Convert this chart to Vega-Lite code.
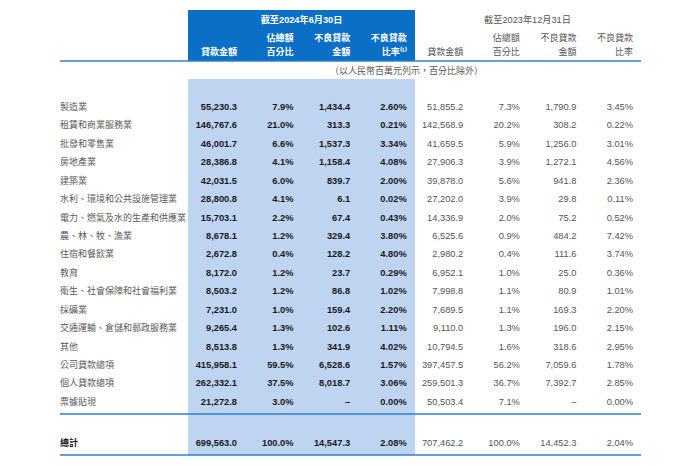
{
  "$schema": "https://vega.github.io/schema/vega-lite/v6.json",
  "width": 696,
  "height": 466,
  "autosize": {"type": "none"},
  "padding": 0,
  "background": "white",
  "config": {
    "view": {"stroke": null},
    "axis": {"disable": true},
    "legend": {"disable": true},
    "scale": {"pointPadding": 0},
    "text": {"font": "'Liberation Sans', 'Noto Sans CJK TC', sans-serif"}
  },
  "datasets": {
    "periods": [
      {"period": "2024", "title": "截至2024年6月30日"},
      {"period": "2023", "title": "截至2023年12月31日"}
    ],
    "headers": [
      {"period": "2024", "col": "loan_2024", "line1": "", "line2": "貸款金額"},
      {"period": "2024", "col": "share_2024", "line1": "佔總額", "line2": "百分比"},
      {"period": "2024", "col": "npl_2024", "line1": "不良貸款", "line2": "金額"},
      {"period": "2024", "col": "ratio_2024", "line1": "不良貸款", "line2": "比率⁽¹⁾"},
      {"period": "2023", "col": "loan_2023", "line1": "", "line2": "貸款金額"},
      {"period": "2023", "col": "share_2023", "line1": "佔總額", "line2": "百分比"},
      {"period": "2023", "col": "npl_2023", "line1": "不良貸款", "line2": "金額"},
      {"period": "2023", "col": "ratio_2023", "line1": "不良貸款", "line2": "比率"}
    ],
    "rules": [
      {"line": "header", "from": "項目", "to": "末欄"},
      {"line": "subtotal", "from": "項目", "to": "末欄"},
      {"line": "total", "from": "項目", "to": "末欄"}
    ],
    "table": [
      {"item": "製造業", "loan_2024": "55,230.3", "share_2024": "7.9%", "npl_2024": "1,434.4", "ratio_2024": "2.60%", "loan_2023": "51,855.2", "share_2023": "7.3%", "npl_2023": "1,790.9", "ratio_2023": "3.45%"},
      {"item": "租賃和商業服務業", "loan_2024": "146,767.6", "share_2024": "21.0%", "npl_2024": "313.3", "ratio_2024": "0.21%", "loan_2023": "142,568.9", "share_2023": "20.2%", "npl_2023": "308.2", "ratio_2023": "0.22%"},
      {"item": "批發和零售業", "loan_2024": "46,001.7", "share_2024": "6.6%", "npl_2024": "1,537.3", "ratio_2024": "3.34%", "loan_2023": "41,659.5", "share_2023": "5.9%", "npl_2023": "1,256.0", "ratio_2023": "3.01%"},
      {"item": "房地產業", "loan_2024": "28,386.8", "share_2024": "4.1%", "npl_2024": "1,158.4", "ratio_2024": "4.08%", "loan_2023": "27,906.3", "share_2023": "3.9%", "npl_2023": "1,272.1", "ratio_2023": "4.56%"},
      {"item": "建築業", "loan_2024": "42,031.5", "share_2024": "6.0%", "npl_2024": "839.7", "ratio_2024": "2.00%", "loan_2023": "39,878.0", "share_2023": "5.6%", "npl_2023": "941.8", "ratio_2023": "2.36%"},
      {"item": "水利、環境和公共設施管理業", "loan_2024": "28,800.8", "share_2024": "4.1%", "npl_2024": "6.1", "ratio_2024": "0.02%", "loan_2023": "27,202.0", "share_2023": "3.9%", "npl_2023": "29.8", "ratio_2023": "0.11%"},
      {"item": "電力、燃氣及水的生產和供應業", "loan_2024": "15,703.1", "share_2024": "2.2%", "npl_2024": "67.4", "ratio_2024": "0.43%", "loan_2023": "14,336.9", "share_2023": "2.0%", "npl_2023": "75.2", "ratio_2023": "0.52%"},
      {"item": "農、林、牧、漁業", "loan_2024": "8,678.1", "share_2024": "1.2%", "npl_2024": "329.4", "ratio_2024": "3.80%", "loan_2023": "6,525.6", "share_2023": "0.9%", "npl_2023": "484.2", "ratio_2023": "7.42%"},
      {"item": "住宿和餐飲業", "loan_2024": "2,672.8", "share_2024": "0.4%", "npl_2024": "128.2", "ratio_2024": "4.80%", "loan_2023": "2,980.2", "share_2023": "0.4%", "npl_2023": "111.6", "ratio_2023": "3.74%"},
      {"item": "教育", "loan_2024": "8,172.0", "share_2024": "1.2%", "npl_2024": "23.7", "ratio_2024": "0.29%", "loan_2023": "6,952.1", "share_2023": "1.0%", "npl_2023": "25.0", "ratio_2023": "0.36%"},
      {"item": "衛生、社會保障和社會福利業", "loan_2024": "8,503.2", "share_2024": "1.2%", "npl_2024": "86.8", "ratio_2024": "1.02%", "loan_2023": "7,998.8", "share_2023": "1.1%", "npl_2023": "80.9", "ratio_2023": "1.01%"},
      {"item": "採礦業", "loan_2024": "7,231.0", "share_2024": "1.0%", "npl_2024": "159.4", "ratio_2024": "2.20%", "loan_2023": "7,689.5", "share_2023": "1.1%", "npl_2023": "169.3", "ratio_2023": "2.20%"},
      {"item": "交通運輸、倉儲和郵政服務業", "loan_2024": "9,265.4", "share_2024": "1.3%", "npl_2024": "102.6", "ratio_2024": "1.11%", "loan_2023": "9,110.0", "share_2023": "1.3%", "npl_2023": "196.0", "ratio_2023": "2.15%"},
      {"item": "其他", "loan_2024": "8,513.8", "share_2024": "1.3%", "npl_2024": "341.9", "ratio_2024": "4.02%", "loan_2023": "10,794.5", "share_2023": "1.6%", "npl_2023": "318.6", "ratio_2023": "2.95%"},
      {"item": "公司貸款總項", "loan_2024": "415,958.1", "share_2024": "59.5%", "npl_2024": "6,528.6", "ratio_2024": "1.57%", "loan_2023": "397,457.5", "share_2023": "56.2%", "npl_2023": "7,059.6", "ratio_2023": "1.78%"},
      {"item": "個人貸款總項", "loan_2024": "262,332.1", "share_2024": "37.5%", "npl_2024": "8,018.7", "ratio_2024": "3.06%", "loan_2023": "259,501.3", "share_2023": "36.7%", "npl_2023": "7,392.7", "ratio_2023": "2.85%"},
      {"item": "票據貼現", "loan_2024": "21,272.8", "share_2024": "3.0%", "npl_2024": "–", "ratio_2024": "0.00%", "loan_2023": "50,503.4", "share_2023": "7.1%", "npl_2023": "–", "ratio_2023": "0.00%"},
      {"item": "總計", "loan_2024": "699,563.0", "share_2024": "100.0%", "npl_2024": "14,547.3", "ratio_2024": "2.08%", "loan_2023": "707,462.2", "share_2023": "100.0%", "npl_2023": "14,452.3", "ratio_2023": "2.04%"}
    ]
  },
  "resolve": {"scale": {"x": "independent", "y": "independent"}},
  "layer": [
    {
      "data": {"name": "periods"},
      "transform": [{"filter": "datum.period === '2024'"}],
      "mark": {"type": "rect", "color": "#0B6FC6"},
      "encoding": {
        "x": {"field": "title", "type": "nominal", "scale": {"type": "band", "domain": ["截至2024年6月30日"], "range": [188, 415], "paddingInner": 0, "paddingOuter": 0}},
        "y": {"field": "title", "type": "nominal", "scale": {"type": "band", "domain": ["截至2024年6月30日"], "range": [10, 61], "paddingInner": 0, "paddingOuter": 0}}
      }
    },
    {
      "data": {"name": "periods"},
      "transform": [{"filter": "datum.period === '2024'"}],
      "mark": {"type": "rect", "color": "#BFD4F0"},
      "encoding": {
        "x": {"field": "title", "type": "nominal", "scale": {"type": "band", "domain": ["截至2024年6月30日"], "range": [188, 415], "paddingInner": 0, "paddingOuter": 0}},
        "y": {"field": "title", "type": "nominal", "scale": {"type": "band", "domain": ["截至2024年6月30日"], "range": [79, 455], "paddingInner": 0, "paddingOuter": 0}}
      }
    },
    {
      "data": {"name": "rules"},
      "transform": [{"filter": "datum.line === 'header'"}],
      "mark": {"type": "rule", "color": "#2A80D2", "strokeWidth": 1.6},
      "encoding": {
        "x": {"field": "from", "type": "nominal", "scale": {"type": "point", "padding": 0, "domain": ["項目", "末欄"], "range": [60, 641]}},
        "x2": {"field": "to"},
        "y": {"field": "line", "type": "nominal", "scale": {"type": "point", "padding": 0, "domain": ["header"], "range": [61, 61]}}
      }
    },
    {
      "data": {"name": "rules"},
      "transform": [{"filter": "datum.line === 'subtotal'"}],
      "mark": {"type": "rule", "color": "#2A80D2", "strokeWidth": 1.6},
      "encoding": {
        "x": {"field": "from", "type": "nominal", "scale": {"type": "point", "padding": 0, "domain": ["項目", "末欄"], "range": [60, 641]}},
        "x2": {"field": "to"},
        "y": {"field": "line", "type": "nominal", "scale": {"type": "point", "padding": 0, "domain": ["subtotal"], "range": [414, 414]}}
      }
    },
    {
      "data": {"name": "rules"},
      "transform": [{"filter": "datum.line === 'total'"}],
      "mark": {"type": "rule", "color": "#2A80D2", "strokeWidth": 1.6},
      "encoding": {
        "x": {"field": "from", "type": "nominal", "scale": {"type": "point", "padding": 0, "domain": ["項目", "末欄"], "range": [60, 641]}},
        "x2": {"field": "to"},
        "y": {"field": "line", "type": "nominal", "scale": {"type": "point", "padding": 0, "domain": ["total"], "range": [455, 455]}}
      }
    },
    {
      "data": {"name": "periods"},
      "transform": [{"filter": "datum.period === '2024'"}],
      "mark": {"type": "text", "color": "#FFFFFF", "fontWeight": "bold", "fontSize": 9.2, "align": "center", "baseline": "middle"},
      "encoding": {
        "x": {"field": "title", "type": "nominal", "scale": {"type": "point", "padding": 0, "domain": ["截至2024年6月30日", "截至2023年12月31日"], "range": [301.5, 527.5]}},
        "y": {"field": "title", "type": "nominal", "scale": {"type": "point", "padding": 0, "domain": ["截至2024年6月30日", "截至2023年12月31日"], "range": [20, 20]}},
        "text": {"field": "title"}
      }
    },
    {
      "data": {"name": "periods"},
      "transform": [{"filter": "datum.period === '2023'"}],
      "mark": {"type": "text", "color": "#555555", "fontSize": 9.2, "align": "center", "baseline": "middle"},
      "encoding": {
        "x": {"field": "title", "type": "nominal", "scale": {"type": "point", "padding": 0, "domain": ["截至2024年6月30日", "截至2023年12月31日"], "range": [301.5, 527.5]}},
        "y": {"field": "title", "type": "nominal", "scale": {"type": "point", "padding": 0, "domain": ["截至2024年6月30日", "截至2023年12月31日"], "range": [20, 20]}},
        "text": {"field": "title"}
      }
    },
    {
      "data": {"name": "headers"},
      "transform": [{"filter": "datum.period === '2024'"}, {"fold": ["line1", "line2"], "as": ["line", "label"]}],
      "mark": {"type": "text", "color": "#FFFFFF", "fontWeight": "bold", "fontSize": 9, "align": "right", "baseline": "middle"},
      "encoding": {
        "x": {"field": "col", "type": "nominal", "scale": {"type": "point", "padding": 0, "domain": ["loan_2024", "share_2024", "npl_2024", "ratio_2024", "loan_2023", "share_2023", "npl_2023", "ratio_2023"], "range": [237, 633]}},
        "y": {"field": "line", "type": "nominal", "scale": {"type": "point", "padding": 0, "domain": ["line1", "line2"], "range": [38, 52]}},
        "text": {"field": "label"}
      }
    },
    {
      "data": {"name": "headers"},
      "transform": [{"filter": "datum.period === '2023'"}, {"fold": ["line1", "line2"], "as": ["line", "label"]}],
      "mark": {"type": "text", "color": "#555555", "fontSize": 9, "align": "right", "baseline": "middle"},
      "encoding": {
        "x": {"field": "col", "type": "nominal", "scale": {"type": "point", "padding": 0, "domain": ["loan_2024", "share_2024", "npl_2024", "ratio_2024", "loan_2023", "share_2023", "npl_2023", "ratio_2023"], "range": [237, 633]}},
        "y": {"field": "line", "type": "nominal", "scale": {"type": "point", "padding": 0, "domain": ["line1", "line2"], "range": [38, 52]}},
        "text": {"field": "label"}
      }
    },
    {
      "data": {"values": [{"note": "（以人民幣百萬元列示，百分比除外）"}]},
      "mark": {"type": "text", "color": "#555555", "fontSize": 9, "align": "right", "baseline": "middle"},
      "encoding": {
        "x": {"field": "note", "type": "nominal", "scale": {"type": "point", "padding": 0, "range": [483, 483]}},
        "y": {"field": "note", "type": "nominal", "scale": {"type": "point", "padding": 0, "range": [71, 71]}},
        "text": {"field": "note"}
      }
    },
    {
      "data": {"name": "table"},
      "transform": [{"filter": "datum.item !== '總計'"}],
      "mark": {"type": "text", "color": "#5A5A5A", "fontSize": 9, "align": "left", "baseline": "middle"},
      "encoding": {
        "x": {"field": "item", "type": "nominal", "sort": null, "scale": {"type": "point", "padding": 0, "range": [60, 60]}},
        "y": {"field": "item", "type": "nominal", "sort": null, "scale": {"type": "point", "padding": 0, "range": [107, 401.8]}},
        "text": {"field": "item"}
      }
    },
    {
      "data": {"name": "table"},
      "transform": [{"filter": "datum.item === '總計'"}],
      "mark": {"type": "text", "color": "#1A1A1A", "fontWeight": "bold", "fontSize": 9, "align": "left", "baseline": "middle"},
      "encoding": {
        "x": {"field": "item", "type": "nominal", "scale": {"type": "point", "padding": 0, "range": [60, 60]}},
        "y": {"field": "item", "type": "nominal", "scale": {"type": "point", "padding": 0, "range": [443, 443]}},
        "text": {"field": "item"}
      }
    },
    {
      "data": {"name": "table"},
      "transform": [
        {"filter": "datum.item !== '總計'"},
        {"fold": ["loan_2024", "share_2024", "npl_2024", "ratio_2024"], "as": ["col", "val"]}
      ],
      "mark": {"type": "text", "color": "#1A1A1A", "fontWeight": "bold", "fontSize": 9.3, "align": "right", "baseline": "middle"},
      "encoding": {
        "x": {"field": "col", "type": "nominal", "scale": {"type": "point", "padding": 0, "domain": ["loan_2024", "share_2024", "npl_2024", "ratio_2024", "loan_2023", "share_2023", "npl_2023", "ratio_2023"], "range": [237, 633]}},
        "y": {"field": "item", "type": "nominal", "sort": null, "scale": {"type": "point", "padding": 0, "range": [107, 401.8]}},
        "text": {"field": "val"}
      }
    },
    {
      "data": {"name": "table"},
      "transform": [
        {"filter": "datum.item !== '總計'"},
        {"fold": ["loan_2023", "share_2023", "npl_2023", "ratio_2023"], "as": ["col", "val"]}
      ],
      "mark": {"type": "text", "color": "#555555", "fontSize": 9.3, "align": "right", "baseline": "middle"},
      "encoding": {
        "x": {"field": "col", "type": "nominal", "scale": {"type": "point", "padding": 0, "domain": ["loan_2024", "share_2024", "npl_2024", "ratio_2024", "loan_2023", "share_2023", "npl_2023", "ratio_2023"], "range": [237, 633]}},
        "y": {"field": "item", "type": "nominal", "sort": null, "scale": {"type": "point", "padding": 0, "range": [107, 401.8]}},
        "text": {"field": "val"}
      }
    },
    {
      "data": {"name": "table"},
      "transform": [
        {"filter": "datum.item === '總計'"},
        {"fold": ["loan_2024", "share_2024", "npl_2024", "ratio_2024"], "as": ["col", "val"]}
      ],
      "mark": {"type": "text", "color": "#1A1A1A", "fontWeight": "bold", "fontSize": 9.3, "align": "right", "baseline": "middle"},
      "encoding": {
        "x": {"field": "col", "type": "nominal", "scale": {"type": "point", "padding": 0, "domain": ["loan_2024", "share_2024", "npl_2024", "ratio_2024", "loan_2023", "share_2023", "npl_2023", "ratio_2023"], "range": [237, 633]}},
        "y": {"field": "item", "type": "nominal", "scale": {"type": "point", "padding": 0, "range": [443, 443]}},
        "text": {"field": "val"}
      }
    },
    {
      "data": {"name": "table"},
      "transform": [
        {"filter": "datum.item === '總計'"},
        {"fold": ["loan_2023", "share_2023", "npl_2023", "ratio_2023"], "as": ["col", "val"]}
      ],
      "mark": {"type": "text", "color": "#555555", "fontSize": 9.3, "align": "right", "baseline": "middle"},
      "encoding": {
        "x": {"field": "col", "type": "nominal", "scale": {"type": "point", "padding": 0, "domain": ["loan_2024", "share_2024", "npl_2024", "ratio_2024", "loan_2023", "share_2023", "npl_2023", "ratio_2023"], "range": [237, 633]}},
        "y": {"field": "item", "type": "nominal", "scale": {"type": "point", "padding": 0, "range": [443, 443]}},
        "text": {"field": "val"}
      }
    }
  ]
}
